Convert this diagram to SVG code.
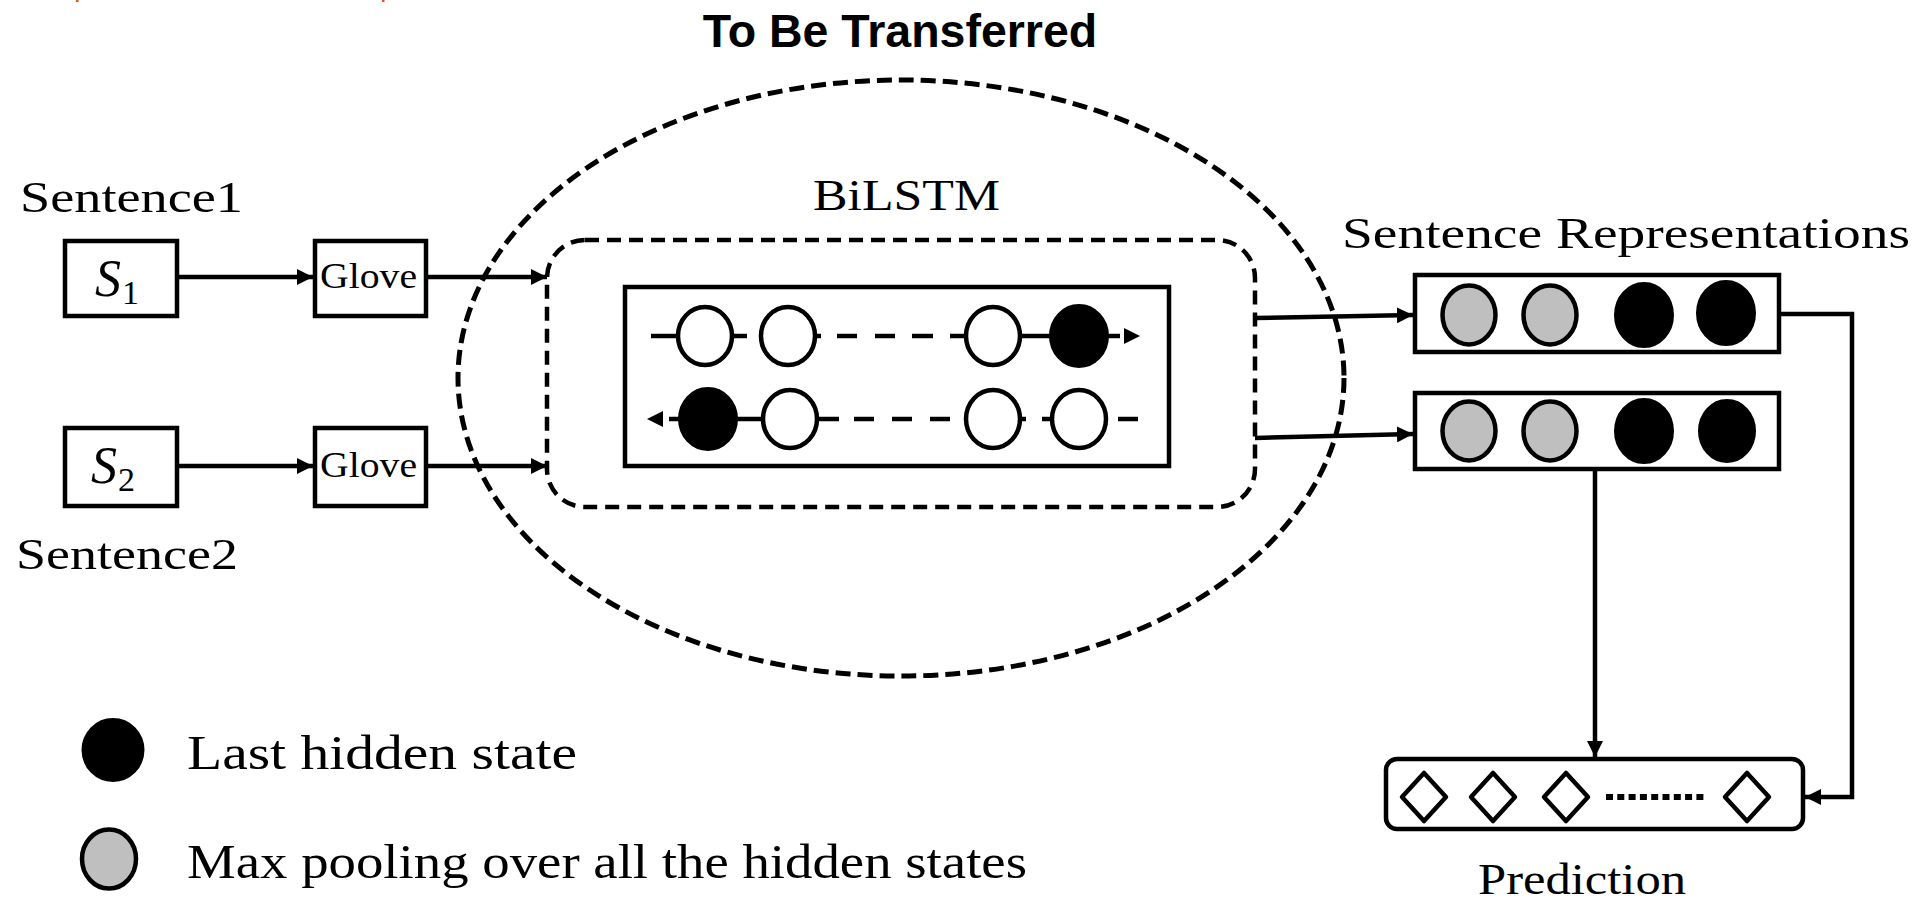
<svg xmlns="http://www.w3.org/2000/svg" width="1923" height="903" viewBox="0 0 1923 903">
<style>
.serif{font-family:"Liberation Serif","Times New Roman",serif;fill:#000}
.box{fill:#fff;stroke:#000;stroke-width:4.5}
.conn{fill:none;stroke:#000;stroke-width:4.5}
.open{fill:#fff;stroke:#000;stroke-width:4.5}
.blk{fill:#000;stroke:#000;stroke-width:4}
.gray{fill:#bfbfbf;stroke:#000;stroke-width:4.5}
.seg{stroke:#000;stroke-width:4.5}
.dia{fill:#fff;stroke:#000;stroke-width:4.5;stroke-linejoin:round}
</style>
<defs>
<marker id="ah" markerUnits="userSpaceOnUse" markerWidth="17" markerHeight="16" refX="16" refY="8" orient="auto">
<path d="M0,0 L16,8 L0,16 z" fill="#000"/>
</marker>
</defs>
<rect width="1923" height="903" fill="#fff"/>
<g id="clip-marks" fill="#e8501e">
<rect x="76" y="0" width="2.500" height="2"/>
<rect x="382" y="0" width="2.500" height="2"/>
</g>
<g id="transfer-region">
<ellipse cx="901" cy="378" rx="443" ry="298" fill="none" stroke="#000" stroke-width="5" stroke-dasharray="15 7"/>
<text x="900" y="47" text-anchor="middle" font-family="Liberation Sans, Arial, sans-serif" font-weight="bold" font-size="46.500">To Be Transferred</text>
</g>
<g id="sentence1">
<rect class="box" x="65" y="241" width="112" height="75"/>
<text class="serif" x="95" y="296" font-size="52" font-style="italic">S</text>
<text class="serif" x="122" y="304" font-size="34">1</text>
<text class="serif" x="20" y="212" font-size="44" textLength="223" lengthAdjust="spacingAndGlyphs">Sentence1</text>
</g>
<g id="sentence2">
<rect class="box" x="65" y="428" width="112" height="78"/>
<text class="serif" x="91" y="483" font-size="52" font-style="italic">S</text>
<text class="serif" x="118" y="491" font-size="34">2</text>
<text class="serif" x="16" y="569" font-size="44" textLength="222" lengthAdjust="spacingAndGlyphs">Sentence2</text>
</g>
<g id="glove1">
<rect class="box" x="315" y="241" width="111" height="75"/>
<text class="serif" x="320" y="288" font-size="36" textLength="97" lengthAdjust="spacingAndGlyphs">Glove</text>
</g>
<g id="glove2">
<rect class="box" x="315" y="428" width="111" height="78"/>
<text class="serif" x="320" y="477" font-size="36" textLength="97" lengthAdjust="spacingAndGlyphs">Glove</text>
</g>
<g id="bilstm">
<rect x="547" y="240" width="708" height="267" rx="38" ry="38" fill="none" stroke="#000" stroke-width="4.5" stroke-dasharray="14 8"/>
<text class="serif" x="813" y="210" font-size="44" textLength="187" lengthAdjust="spacingAndGlyphs">BiLSTM</text>
<rect class="box" x="625" y="287" width="544" height="179"/>
<g id="forward-row">
<line class="seg" x1="651" y1="336" x2="680" y2="336"/>
<line class="seg" x1="730" y1="336" x2="747" y2="336"/>
<line class="seg" x1="812" y1="336" x2="821" y2="336"/>
<line class="seg" x1="837" y1="336" x2="857" y2="336"/>
<line class="seg" x1="875" y1="336" x2="895" y2="336"/>
<line class="seg" x1="912" y1="336" x2="933" y2="336"/>
<line class="seg" x1="950" y1="336" x2="970" y2="336"/>
<line class="seg" x1="1016" y1="336" x2="1056" y2="336"/>
<line class="seg" x1="1100" y1="336" x2="1120" y2="336"/>
<path d="M1124,328 L1140,336 L1124,344 z" fill="#000"/>
<ellipse class="open" cx="705" cy="336" rx="27" ry="29"/>
<ellipse class="open" cx="788" cy="336" rx="27" ry="29"/>
<ellipse class="open" cx="993" cy="336" rx="27" ry="29"/>
<ellipse class="blk" cx="1079" cy="336" rx="28" ry="30"/>
</g>
<g id="backward-row">
<path d="M663,411 L647,419 L663,427 z" fill="#000"/>
<line class="seg" x1="669" y1="419" x2="690" y2="419"/>
<line class="seg" x1="735" y1="419" x2="770" y2="419"/>
<line class="seg" x1="810" y1="419" x2="839" y2="419"/>
<line class="seg" x1="854" y1="419" x2="874" y2="419"/>
<line class="seg" x1="892" y1="419" x2="912" y2="419"/>
<line class="seg" x1="930" y1="419" x2="950" y2="419"/>
<line class="seg" x1="1018" y1="419" x2="1026" y2="419"/>
<line class="seg" x1="1042" y1="419" x2="1058" y2="419"/>
<line class="seg" x1="1118" y1="419" x2="1138" y2="419"/>
<ellipse class="blk" cx="708" cy="419" rx="28" ry="30"/>
<ellipse class="open" cx="790" cy="419" rx="27" ry="29"/>
<ellipse class="open" cx="993" cy="419" rx="27" ry="29"/>
<ellipse class="open" cx="1079" cy="419" rx="27" ry="29"/>
</g>
</g>
<g id="rep1">
<rect class="box" x="1415" y="275" width="364" height="77"/>
<ellipse class="gray" cx="1469" cy="315" rx="26.500" ry="29.500"/>
<ellipse class="gray" cx="1550" cy="315" rx="26.500" ry="29.500"/>
<ellipse class="blk" cx="1644" cy="315" rx="28" ry="31"/>
<ellipse class="blk" cx="1726" cy="313" rx="28" ry="31"/>
</g>
<g id="rep2">
<rect class="box" x="1415" y="393" width="364" height="76"/>
<ellipse class="gray" cx="1469" cy="431" rx="26.500" ry="29.500"/>
<ellipse class="gray" cx="1550" cy="431" rx="26.500" ry="29.500"/>
<ellipse class="blk" cx="1644" cy="431" rx="28" ry="31"/>
<ellipse class="blk" cx="1727" cy="431" rx="27" ry="30"/>
</g>
<g id="rep-label">
<text class="serif" x="1342" y="248" font-size="44" textLength="568" lengthAdjust="spacingAndGlyphs">Sentence Representations</text>
</g>
<g id="prediction">
<rect class="box" x="1386" y="759" width="417" height="70" rx="11" ry="11"/>
<path class="dia" d="M1424,773 L1446,797 L1424,821 L1402,797 z"/>
<path class="dia" d="M1493,773 L1515,797 L1493,821 L1471,797 z"/>
<path class="dia" d="M1566,773 L1588,797 L1566,821 L1544,797 z"/>
<path class="dia" d="M1747,773 L1769,797 L1747,821 L1725,797 z"/>
<line x1="1606" y1="797" x2="1704" y2="797" stroke="#000" stroke-width="6" stroke-dasharray="7 4.300"/>
<text class="serif" x="1478" y="894" font-size="44" textLength="208" lengthAdjust="spacingAndGlyphs">Prediction</text>
</g>
<g id="legend">
<ellipse class="blk" cx="113" cy="750" rx="29.500" ry="30"/>
<text class="serif" x="187" y="769" font-size="48" textLength="390" lengthAdjust="spacingAndGlyphs">Last hidden state</text>
<ellipse class="gray" cx="109" cy="859" rx="27" ry="29.500"/>
<text class="serif" x="187" y="878" font-size="48" textLength="840" lengthAdjust="spacingAndGlyphs">Max pooling over all the hidden states</text>
</g>
<g id="connectors">
<line class="conn" x1="177" y1="277" x2="313" y2="277" marker-end="url(#ah)"/>
<line class="conn" x1="177" y1="466" x2="313" y2="466" marker-end="url(#ah)"/>
<line class="conn" x1="426" y1="277" x2="547" y2="277" marker-end="url(#ah)"/>
<line class="conn" x1="426" y1="466" x2="547" y2="466" marker-end="url(#ah)"/>
<line class="conn" x1="1255" y1="318" x2="1413" y2="315" marker-end="url(#ah)"/>
<line class="conn" x1="1255" y1="438" x2="1413" y2="434" marker-end="url(#ah)"/>
<polyline class="conn" points="1779,314 1852,314 1852,797 1805,797" marker-end="url(#ah)"/>
<line class="conn" x1="1595" y1="469" x2="1595" y2="757" marker-end="url(#ah)"/>
</g>
</svg>
